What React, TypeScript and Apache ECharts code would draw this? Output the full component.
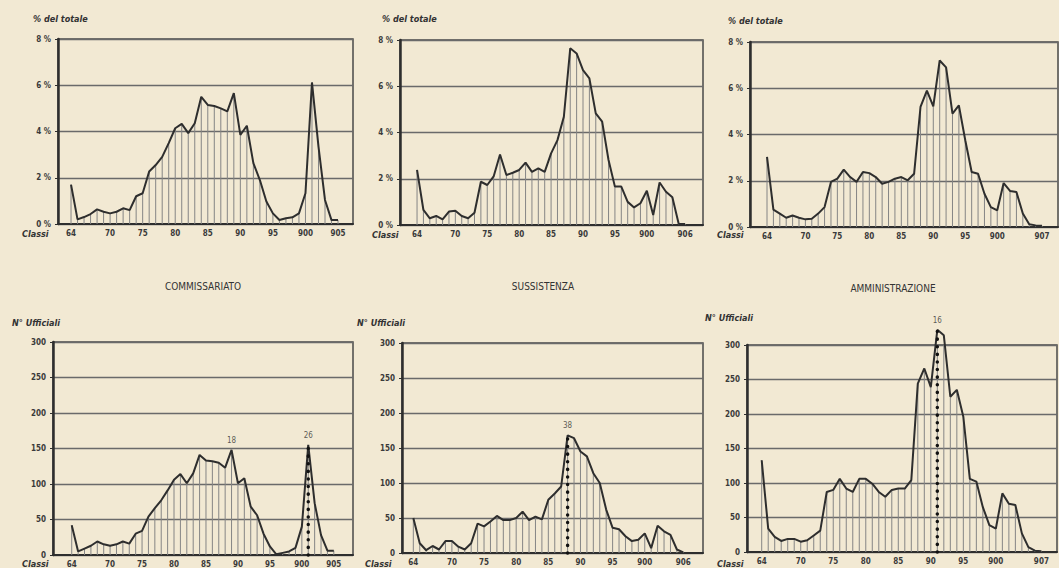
import React, { useEffect, useRef } from "react";
import * as echarts from "echarts";

// ---------- categories ----------
const YEARS = [
  1864, 1865, 1866, 1867, 1868, 1869, 1870, 1871, 1872, 1873, 1874, 1875, 1876, 1877, 1878,
  1879, 1880, 1881, 1882, 1883, 1884, 1885, 1886, 1887, 1888, 1889, 1890, 1891, 1892, 1893,
  1894, 1895, 1896, 1897, 1898, 1899, 1900, 1901, 1902, 1903, 1904, 1905, 1906, 1907,
];

// ---------- tick labels ----------
const TICK_YEARS_1905 = [1864, 1870, 1875, 1880, 1885, 1890, 1895, 1900, 1905];
const TICK_TEXT_1905 = ["64", "70", "75", "80", "85", "90", "95", "900", "905"];
const TICK_YEARS_1906 = [1864, 1870, 1875, 1880, 1885, 1890, 1895, 1900, 1906];
const TICK_TEXT_1906 = ["64", "70", "75", "80", "85", "90", "95", "900", "906"];
const TICK_YEARS_1907 = [1864, 1870, 1875, 1880, 1885, 1890, 1895, 1900, 1907];
const TICK_TEXT_1907 = ["64", "70", "75", "80", "85", "90", "95", "900", "907"];

// ---------- series values ----------
// % del totale
const PCT_COMMISSARIATO = [
  1.7, 0.2, 0.3, 0.43, 0.63, 0.53, 0.46, 0.53, 0.68, 0.6, 1.2, 1.33, 2.27, 2.55, 2.9, 3.5,
  4.14, 4.33, 3.93, 4.36, 5.5, 5.15, 5.1, 5.0, 4.87, 5.66, 3.85, 4.25, 2.63, 1.9, 0.97, 0.46,
  0.17, 0.25, 0.29, 0.46, 1.33, 6.12, 3.35, 1.04, 0.17, 0.17,
];
const PCT_SUSSISTENZA = [
  2.38, 0.65, 0.29, 0.39, 0.24, 0.58, 0.62, 0.39, 0.29, 0.53, 1.87, 1.73, 2.1, 3.05, 2.16,
  2.26, 2.38, 2.7, 2.3, 2.45, 2.3, 3.1, 3.67, 4.68, 7.64, 7.42, 6.7, 6.34, 4.83, 4.47, 2.81,
  1.66, 1.66, 1.0, 0.76, 0.94, 1.48, 0.43, 1.84, 1.44, 1.2, 0.04, 0.04,
];
const PCT_AMMINISTRAZIONE = [
  3.03, 0.75, 0.58, 0.4, 0.5, 0.4, 0.33, 0.36, 0.58, 0.86, 1.95, 2.09, 2.48, 2.16, 1.95,
  2.38, 2.33, 2.16, 1.87, 1.95, 2.09, 2.16, 2.02, 2.3, 5.19, 5.9, 5.22, 7.2, 6.9, 4.9, 5.26,
  3.75, 2.38, 2.3, 1.44, 0.86, 0.72, 1.9, 1.56, 1.51, 0.58, 0.12, 0.07, 0.05,
];
// N° Ufficiali
const NUM_COMMISSARIATO = [
  42, 5, 9, 13, 19, 15, 13, 15, 19, 16, 30, 34, 54, 66, 77, 91, 106, 114, 101, 115, 141, 133,
  132, 130, 123, 148, 101, 108, 68, 56, 30, 12, 1, 3, 5, 10, 40, 155, 73, 28, 6, 6,
];
const NUM_SUSSISTENZA = [
  50, 14, 4, 10, 5, 17, 17, 9, 5, 14, 42, 38, 45, 53, 47, 47, 50, 59, 47, 52, 48, 76, 85, 95,
  168, 164, 145, 138, 114, 100, 62, 36, 34, 24, 17, 19, 28, 7, 39, 31, 26, 5, 1,
];
const NUM_AMMINISTRAZIONE = [
  133, 34, 22, 16, 19, 19, 15, 17, 24, 31, 87, 90, 106, 92, 87, 106, 106, 99, 87, 80, 90, 92,
  92, 104, 244, 266, 239, 322, 314, 225, 235, 196, 106, 102, 65, 39, 34, 85, 70, 68, 27, 7, 2, 1,
];

// peak annotations: [year, text]
const PEAKS_COMMISSARIATO: [number, string][] = [[1889, "18"], [1901, "26"]];
const PEAKS_SUSSISTENZA: [number, string][] = [[1888, "38"]];
const PEAKS_AMMINISTRAZIONE: [number, string][] = [[1891, "16"]];
// dotted verticals (years)
const DOTTED_COMMISSARIATO = [1901];
const DOTTED_SUSSISTENZA = [1888];
const DOTTED_AMMINISTRAZIONE = [1891];

const TITLES = ["COMMISSARIATO", "SUSSISTENZA", "AMMINISTRAZIONE"];

// ---------- layout ----------
type Panel = {
  grid: { left: number; top: number; width: number; height: number };
  xMin: number;
  xMax: number;
  yMax: number;
  yInterval: number;
  pct: boolean;
  values: number[];
  tickYears: number[];
  tickText: string[];
  peaks: [number, string][];
  dotted: number[];
};

const PANELS: Panel[] = [
  { grid: { left: 58, top: 39, width: 295, height: 185 }, xMin: 1862.0, xMax: 1907.3, yMax: 8, yInterval: 2, pct: true, values: PCT_COMMISSARIATO, tickYears: TICK_YEARS_1905, tickText: TICK_TEXT_1905, peaks: [], dotted: [] },
  { grid: { left: 400, top: 40, width: 303, height: 185 }, xMin: 1861.33, xMax: 1908.8, yMax: 8, yInterval: 2, pct: true, values: PCT_SUSSISTENZA, tickYears: TICK_YEARS_1906, tickText: TICK_TEXT_1906, peaks: [], dotted: [] },
  { grid: { left: 750, top: 42, width: 308, height: 185 }, xMin: 1861.34, xMax: 1909.5, yMax: 8, yInterval: 2, pct: true, values: PCT_AMMINISTRAZIONE, tickYears: TICK_YEARS_1907, tickText: TICK_TEXT_1907, peaks: [], dotted: [] },
  { grid: { left: 53, top: 342, width: 300, height: 213 }, xMin: 1861.07, xMax: 1908.0, yMax: 300, yInterval: 50, pct: false, values: NUM_COMMISSARIATO, tickYears: TICK_YEARS_1905, tickText: TICK_TEXT_1905, peaks: PEAKS_COMMISSARIATO, dotted: DOTTED_COMMISSARIATO },
  { grid: { left: 402, top: 343, width: 301, height: 210 }, xMin: 1862.24, xMax: 1909.06, yMax: 300, yInterval: 50, pct: false, values: NUM_SUSSISTENZA, tickYears: TICK_YEARS_1906, tickText: TICK_TEXT_1906, peaks: PEAKS_SUSSISTENZA, dotted: DOTTED_SUSSISTENZA },
  { grid: { left: 747, top: 345, width: 310, height: 207 }, xMin: 1861.74, xMax: 1909.4, yMax: 300, yInterval: 50, pct: false, values: NUM_AMMINISTRAZIONE, tickYears: TICK_YEARS_1907, tickText: TICK_TEXT_1907, peaks: PEAKS_AMMINISTRAZIONE, dotted: DOTTED_AMMINISTRAZIONE },
];

const BG = "#f2e9d3";
const INK = "#2e2e2e";
const FONT = "'DejaVu Sans Condensed', 'DejaVu Sans', sans-serif";

function buildOption() {
  const grids: any[] = [];
  const xAxes: any[] = [];
  const yAxes: any[] = [];
  const series: any[] = [];

  PANELS.forEach((p, i) => {
    grids.push({
      ...p.grid,
      show: true,
      borderColor: "#4a4a4a",
      borderWidth: 1.5,
      backgroundColor: "transparent",
    });
    const textMap: Record<number, string> = {};
    p.tickYears.forEach((y, k) => (textMap[y] = p.tickText[k]));
    xAxes.push({
      type: "value",
      gridIndex: i,
      min: p.xMin,
      max: p.xMax,
      axisLine: { show: true, onZero: false, lineStyle: { color: INK, width: 2 } },
      axisTick: { show: false },
      splitLine: { show: false },
      axisLabel: {
        customValues: p.tickYears,
        formatter: (v: number) => textMap[Math.round(v)] ?? "",
        fontSize: 8,
        fontFamily: FONT,
        fontWeight: "bold",
        color: "#3a3a3a",
        margin: 5,
        hideOverlap: false,
        showMinLabel: true,
        showMaxLabel: true,
      },
    });
    yAxes.push({
      type: "value",
      gridIndex: i,
      min: 0,
      max: p.yMax,
      interval: p.yInterval,
      axisLine: { show: true, lineStyle: { color: INK, width: 2.5 } },
      axisTick: { show: true, length: 3, lineStyle: { color: INK } },
      splitLine: { show: true, lineStyle: { color: "#6a6a6a", width: 1.4 } },
      axisLabel: {
        formatter: (v: number) => (p.pct ? `${v} %` : `${v}`),
        fontSize: 8,
        fontFamily: FONT,
        fontWeight: "bold",
        color: "#3a3a3a",
        margin: 7,
      },
    });
    const pairs = p.values.map((v, k) => [YEARS[k], v]);
    const valueAt = (year: number) => p.values[YEARS.indexOf(year)];
    series.push({
      type: "bar",
      xAxisIndex: i,
      yAxisIndex: i,
      data: pairs,
      barWidth: 1,
      itemStyle: { color: "#858585" },
      silent: true,
      z: 1,
    });
    series.push({
      type: "line",
      xAxisIndex: i,
      yAxisIndex: i,
      data: pairs,
      symbol: "none",
      clip: false,
      lineStyle: { color: INK, width: 2 },
      silent: true,
      z: 3,
    });
    p.dotted.forEach((y) => {
      series.push({
        type: "line",
        xAxisIndex: i,
        yAxisIndex: i,
        data: [
          [y, 0],
          [y, valueAt(y)],
        ],
        symbol: "none",
        clip: false,
        silent: true,
        z: 4,
        lineStyle: { color: "#111", width: 3.5, type: [0.1, 7.5], cap: "round" },
      });
    });
    if (p.peaks.length) {
      series.push({
        type: "scatter",
        xAxisIndex: i,
        yAxisIndex: i,
        clip: false,
        silent: true,
        symbolSize: 1,
        itemStyle: { color: "rgba(0,0,0,0)" },
        z: 5,
        label: {
          show: true,
          position: "top",
          distance: 5,
          formatter: (d: any) => d.data.name,
          fontSize: 8,
          fontFamily: FONT,
          color: "#333",
        },
        data: p.peaks.map(([y, t]) => ({ value: [y, valueAt(y)], name: t })),
      });
    }
  });

  const txt = (x: number, y: number, text: string, extra: any = {}) => ({
    type: "text",
    x,
    y,
    silent: true,
    style: {
      text,
      fill: "#333",
      font: `italic bold 9px ${FONT}`,
      textVerticalAlign: "middle",
      ...extra,
    },
  });

  const titleFont = `10px ${FONT}`;
  const graphic: any[] = [
    txt(33, 19, "% del totale"),
    txt(382, 19, "% del totale"),
    txt(728, 21, "% del totale"),
    txt(12, 323, "N° Ufficiali"),
    txt(357, 323, "N° Ufficiali"),
    txt(705, 318, "N° Ufficiali"),
    txt(22, 234, "Classi"),
    txt(372, 235, "Classi"),
    txt(717, 235, "Classi"),
    txt(22, 564, "Classi"),
    txt(365, 564, "Classi"),
    txt(717, 564, "Classi"),
    txt(203, 286, TITLES[0], { font: titleFont, textAlign: "center" }),
    txt(543, 286, TITLES[1], { font: titleFont, textAlign: "center" }),
    txt(893, 288, TITLES[2], { font: titleFont, textAlign: "center" }),
  ];

  return {
    animation: false,
    backgroundColor: BG,
    grid: grids,
    xAxis: xAxes,
    yAxis: yAxes,
    series,
    graphic,
  };
}

export default function App() {
  const ref = useRef<HTMLDivElement>(null);
  useEffect(() => {
    if (!ref.current) return;
    const chart = echarts.init(ref.current, undefined, { renderer: "svg" });
    chart.setOption(buildOption() as any);
    return () => chart.dispose();
  }, []);
  return (
    <div
      ref={ref}
      style={{ position: "fixed", left: 0, top: 0, width: 1059, height: 568, background: BG }}
    />
  );
}
